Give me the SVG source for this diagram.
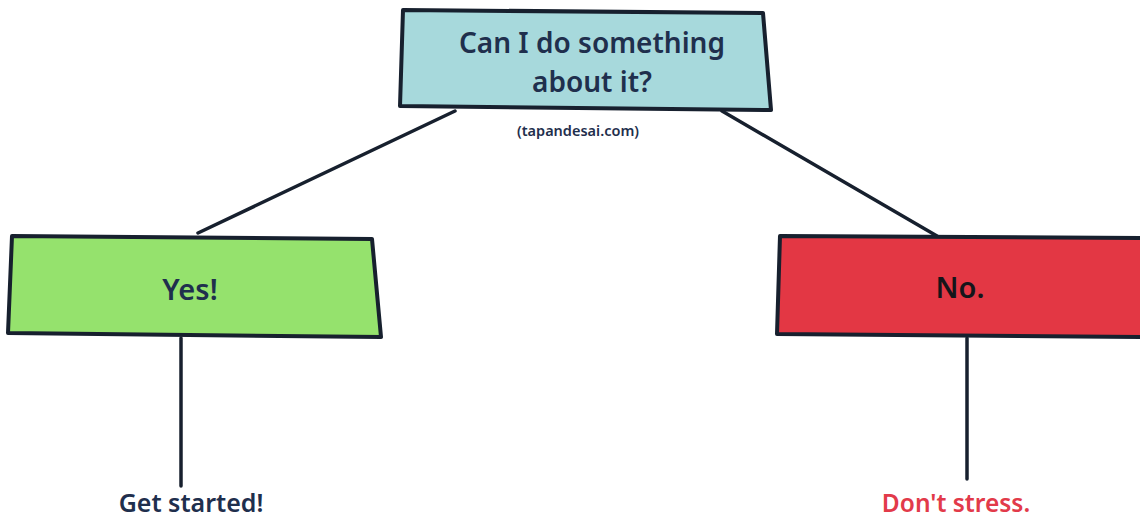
<svg xmlns="http://www.w3.org/2000/svg" width="1140" height="519" viewBox="0 0 1140 519">
  <style>
    .box { stroke: #17202e; stroke-width: 4; stroke-linejoin: round; }
    .link { stroke: #17202e; stroke-width: 3.5; stroke-linecap: round; fill: none; }
    .t { font-family: "Noto Sans", "Liberation Sans", sans-serif; font-weight: 600; text-anchor: middle; fill: #1f2f4d; }
  </style>
  <rect width="1140" height="519" fill="#ffffff"/>

  <g id="connectors">
    <line class="link" x1="455" y1="111" x2="198" y2="233"/>
    <line class="link" x1="722" y1="111" x2="937" y2="236"/>
    <line class="link" x1="181" y1="338" x2="181" y2="486"/>
    <line class="link" x1="967" y1="338" x2="967" y2="479"/>
  </g>

  <g id="question">
    <polygon class="box" fill="#a7d9dc" points="403,10 763,13 771,110 400,106"/>
    <text class="t" x="592" y="53" font-size="28">Can I do something</text>
    <text class="t" x="592" y="92" font-size="28">about it?</text>
    <text class="t" x="578" y="136" font-size="14.5" font-weight="500">(tapandesai.com)</text>
  </g>

  <g id="yes">
    <polygon class="box" fill="#95e26d" points="12,236 372,239 381,337 8,333"/>
    <text class="t" x="190" y="300" font-size="29">Yes!</text>
  </g>

  <g id="no">
    <polygon class="box" fill="#e33744" points="780,236 1142,238 1142,337 777,334"/>
    <text class="t" x="960" y="298" font-size="29" style="fill:#15151a">No.</text>
  </g>

  <g id="get-started">
    <text class="t" x="191" y="512" font-size="25">Get started!</text>
  </g>

  <g id="dont-stress">
    <text class="t" x="956" y="512" font-size="24.5" style="fill:#e23a4a">Don't stress.</text>
  </g>
</svg>
